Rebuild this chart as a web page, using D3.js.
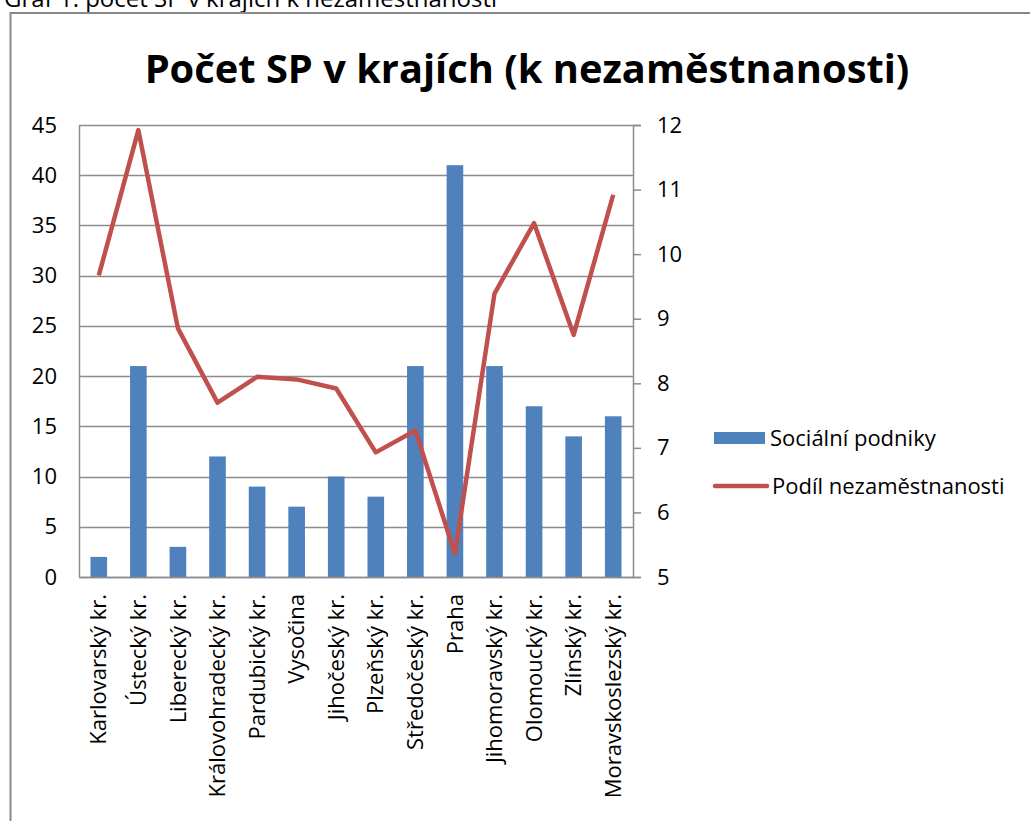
<!DOCTYPE html>
<html>
<head>
<meta charset="utf-8">
<script src="https://cdn.jsdelivr.net/npm/d3@7"></script>
<style>
  body { margin: 0; background: #fff; }
  svg { display: block; }
  text { font-family: "Open Sans", "Noto Sans", sans-serif; fill: #000; }
</style>
</head>
<body>
<div id="chart"></div>
<script>
// data
var regions = ["Karlovarský kr.", "Ústecký kr.", "Liberecký kr.", "Královohradecký kr.",
  "Pardubický kr.", "Vysočina", "Jihočeský kr.", "Plzeňský kr.", "Středočeský kr.",
  "Praha", "Jihomoravský kr.", "Olomoucký kr.", "Zlínský kr.", "Moravskoslezský kr."];
var podniky = [2, 21, 3, 12, 9, 7, 10, 8, 21, 41, 21, 17, 14, 16];
var nezamestnanost = [9.67, 11.92, 8.85, 7.7, 8.1, 8.06, 7.92, 6.93, 7.27, 5.36, 9.39, 10.48, 8.75, 10.92];
var leftTicks = [0, 5, 10, 15, 20, 25, 30, 35, 40, 45];
var rightTicks = [5, 6, 7, 8, 9, 10, 11, 12];

var width = 1030, height = 821;
var plot = { left: 79, right: 633, top: 125, bottom: 577 };
var fs = '22px';

var svg = d3.select('#chart').append('svg')
  .attr('width', width)
  .attr('height', height);

// caption above the chart (cut off at the top like in the source)
svg.append('text')
  .attr('x', 4)
  .attr('y', 7)
  .style('font-size', '24px')
  .text('Graf 1: počet SP v krajích k nezaměstnanosti');

// chart border
svg.append('rect')
  .attr('x', 10.5)
  .attr('y', 13)
  .attr('width', 1040)
  .attr('height', 840)
  .attr('fill', '#fff')
  .attr('stroke', '#888')
  .attr('stroke-width', 2);

// title, fitted to the width it has in the source
var title = svg.append('text')
  .attr('x', 527)
  .attr('y', 83)
  .attr('text-anchor', 'middle')
  .style('font-size', '40px')
  .style('font-weight', 'bold')
  .text('Počet SP v krajích (k nezaměstnanosti)');
var tw = title.node().getComputedTextLength();
title.style('font-size', (40 * 765 / tw) + 'px');

var x = d3.scaleBand()
  .domain(regions)
  .range([plot.left, plot.right])
  .paddingInner(0.58)
  .paddingOuter(0.29);

var y = d3.scaleLinear().domain([0, 45]).range([plot.bottom, plot.top]);
var y2 = d3.scaleLinear().domain([5, 12]).range([plot.bottom, plot.top]);

// gridlines
svg.append('g').selectAll('line')
  .data(leftTicks)
  .enter().append('line')
  .attr('x1', plot.left)
  .attr('x2', plot.right)
  .attr('y1', function(d) { return Math.round(y(d)) + 0.5; })
  .attr('y2', function(d) { return Math.round(y(d)) + 0.5; })
  .attr('stroke', '#8c8c8c')
  .attr('stroke-width', 1.5);

// left axis
var leftAxis = svg.append('g')
  .attr('transform', 'translate(' + plot.left + ',0)')
  .call(d3.axisLeft(y).tickValues(leftTicks).tickSize(0).tickPadding(22));
leftAxis.select('.domain').attr('stroke', '#8c8c8c').attr('stroke-width', 1.5);
leftAxis.selectAll('text').style('font-size', fs).attr('font-family', null);

// right axis
var rightAxis = svg.append('g')
  .attr('transform', 'translate(' + plot.right + ',0)')
  .call(d3.axisRight(y2).tickValues(rightTicks).tickFormat(d3.format('d')).tickSize(8).tickPadding(16));
rightAxis.select('.domain').attr('stroke', '#8c8c8c').attr('stroke-width', 1.5);
rightAxis.selectAll('line').attr('stroke', '#8c8c8c').attr('stroke-width', 1.5);
rightAxis.selectAll('text').style('font-size', fs).attr('font-family', null);

// bars
svg.append('g').selectAll('rect')
  .data(podniky)
  .enter().append('rect')
  .attr('x', function(d, i) { return x(regions[i]); })
  .attr('y', function(d) { return y(d); })
  .attr('width', x.bandwidth())
  .attr('height', function(d) { return y(0) - y(d); })
  .attr('fill', '#4f81bd');

// bottom axis
var bottomAxis = svg.append('g')
  .attr('transform', 'translate(0,' + plot.bottom + ')')
  .call(d3.axisBottom(x).tickSize(0).tickPadding(0));
bottomAxis.select('.domain').attr('stroke', '#8c8c8c').attr('stroke-width', 1.5);
bottomAxis.selectAll('text')
  .attr('font-family', null)
  .style('font-size', fs)
  .attr('text-anchor', 'end')
  .attr('transform', 'rotate(-90)')
  .attr('x', -17)
  .attr('y', 0)
  .attr('dy', '0.35em');

// unemployment line
var line = d3.line()
  .x(function(d, i) { return x(regions[i]) + x.bandwidth() / 2; })
  .y(function(d) { return y2(d); });

svg.append('path')
  .datum(nezamestnanost)
  .attr('d', line)
  .attr('fill', 'none')
  .attr('stroke', '#c0504d')
  .attr('stroke-width', 4.5)
  .attr('stroke-linejoin', 'round');

// legend
var legend = svg.append('g');
legend.append('rect')
  .attr('x', 714).attr('y', 432)
  .attr('width', 51).attr('height', 12)
  .attr('fill', '#4f81bd');
legend.append('text')
  .attr('x', 770).attr('y', 438).attr('dy', '0.35em')
  .style('font-size', fs)
  .text('Sociální podniky');
legend.append('line')
  .attr('x1', 715).attr('x2', 767)
  .attr('y1', 486).attr('y2', 486)
  .attr('stroke', '#c0504d')
  .attr('stroke-width', 4.5)
  .attr('stroke-linecap', 'round');
legend.append('text')
  .attr('x', 772).attr('y', 486).attr('dy', '0.35em')
  .style('font-size', fs)
  .text('Podíl nezaměstnanosti');
</script>
</body>
</html>
